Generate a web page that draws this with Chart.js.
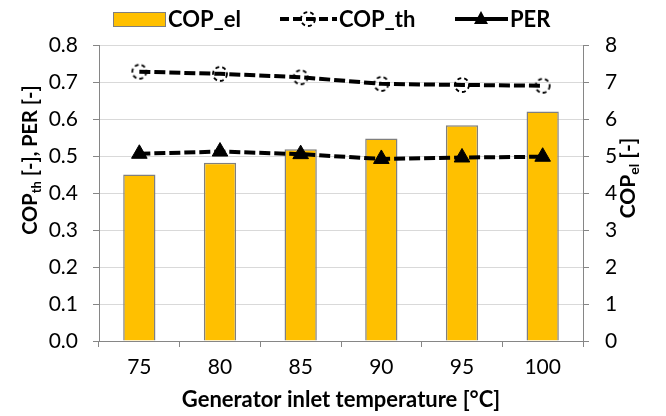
<!DOCTYPE html>
<html>
<head>
<meta charset="utf-8">
<script src="https://cdn.jsdelivr.net/npm/chart.js@4"></script>
<style>
  html, body { margin: 0; padding: 0; background: #fff; }
  #wrap { width: 666px; height: 416px; }
</style>
</head>
<body>
<div id="wrap"><canvas id="copChart" width="666" height="416"></canvas></div>
<script>
// generator inlet temperature steps
var temps = ["75", "80", "85", "90", "95", "100"];
// electric COP (right axis)
var copEl = [4.5, 4.82, 5.18, 5.47, 5.83, 6.2];
// thermal COP and primary energy ratio (left axis)
var copTh = [0.728, 0.722, 0.713, 0.695, 0.692, 0.69];
var per = [0.506, 0.512, 0.505, 0.492, 0.496, 0.498];

var leftTicks = [0, 0.1, 0.2, 0.3, 0.4, 0.5, 0.6, 0.7, 0.8];
var rightTicks = [0, 1, 2, 3, 4, 5, 6, 7, 8];

var FONT = "Lato, 'Open Sans', sans-serif";
var BAR_FILL = "#FFC000";
var BAR_EDGE = "#7f7f7f";
var AXIS = "#868686";
var GRID = "#d9d9d9";

// open circle with a dashed outline, used for COP_th
function dashedCircle() {
   var c = document.createElement("canvas");
   c.width = 20;
   c.height = 20;
   var g = c.getContext("2d");
   g.strokeStyle = "#000";
   g.lineWidth = 1.8;
   g.setLineDash([4, 3]);
   g.beginPath();
   g.arc(10, 10, 7, 0, Math.PI * 2);
   g.stroke();
   return c;
}
var circleMarker = dashedCircle();

// text with an optional subscript part, drawn centred on (cx, cy)
function richText(ctx, parts, cx, cy, angle, size) {
   var subSize = Math.round(size * 0.67);
   ctx.save();
   ctx.translate(cx, cy);
   ctx.rotate(angle);
   ctx.textBaseline = "middle";
   ctx.textAlign = "left";
   var total = 0;
   parts.forEach(function (p) {
      ctx.font = "bold " + (p.sub ? subSize : size) + "px " + FONT;
      p.w = ctx.measureText(p.text).width;
      total += p.w;
   });
   var x = -total / 2;
   parts.forEach(function (p) {
      ctx.font = "bold " + (p.sub ? subSize : size) + "px " + FONT;
      ctx.fillStyle = "#000";
      ctx.fillText(p.text, x, p.sub ? 6 : 0);
      x += p.w;
   });
   ctx.restore();
}

var extras = {
   id: "extras",
   afterDraw: function (chart) {
      var ctx = chart.ctx;

      // axis titles with subscripts
      richText(ctx, [{ text: "COP" }, { text: "th", sub: true }, { text: " [-], PER [-]" }], 31, 160, -Math.PI / 2, 20);
      richText(ctx, [{ text: "COP" }, { text: "el", sub: true }, { text: " [-]" }], 628, 178, -Math.PI / 2, 21);

      // legend
      var ly = 19;
      ctx.save();
      ctx.fillStyle = BAR_FILL;
      ctx.strokeStyle = BAR_EDGE;
      ctx.lineWidth = 1;
      ctx.fillRect(113, 12, 52, 14);
      ctx.strokeRect(113.5, 12.5, 52, 14);

      ctx.font = "bold 22px " + FONT;
      ctx.fillStyle = "#000";
      ctx.textBaseline = "middle";
      ctx.fillText("COP_el", 168, ly + 1);

      ctx.strokeStyle = "#000";
      ctx.lineWidth = 4;
      ctx.setLineDash([9, 4]);
      ctx.beginPath();
      ctx.moveTo(280, ly);
      ctx.lineTo(337, ly);
      ctx.stroke();
      ctx.setLineDash([]);
      ctx.drawImage(circleMarker, 308 - 10, ly - 10);
      ctx.fillText("COP_th", 339, ly + 1);

      ctx.beginPath();
      ctx.moveTo(455, ly);
      ctx.lineTo(508, ly);
      ctx.stroke();
      ctx.beginPath();
      ctx.moveTo(481, ly - 8);
      ctx.lineTo(488, ly + 5);
      ctx.lineTo(474, ly + 5);
      ctx.closePath();
      ctx.fill();
      ctx.fillText("PER", 510, ly + 1);
      ctx.restore();
   },
};

var ctx = document.getElementById("copChart").getContext("2d");
var chart = new Chart(ctx, {
   type: "bar",
   data: {
      labels: temps,
      datasets: [
         {
            type: "line",
            label: "COP_th",
            data: copTh,
            yAxisID: "y",
            borderColor: "#000",
            borderWidth: 4,
            borderDash: [11, 4],
            pointStyle: circleMarker,
            fill: false,
            order: 1,
         },
         {
            type: "line",
            label: "PER",
            data: per,
            yAxisID: "y",
            borderColor: "#000",
            borderWidth: 4,
            borderDash: [11, 4],
            pointStyle: "triangle",
            pointRadius: 9,
            pointBackgroundColor: "#000",
            pointBorderColor: "#000",
            pointBorderWidth: 1,
            fill: false,
            order: 2,
         },
         {
            type: "bar",
            label: "COP_el",
            data: copEl,
            yAxisID: "y2",
            backgroundColor: BAR_FILL,
            borderColor: BAR_EDGE,
            borderWidth: 1.5,
            categoryPercentage: 1,
            barPercentage: 0.4,
            order: 3,
         },
      ],
   },
   options: {
      responsive: false,
      animation: false,
      layout: { padding: { top: 45, left: 0, right: 0, bottom: 0 } },
      plugins: {
         legend: { display: false },
         tooltip: { enabled: false },
      },
      scales: {
         x: {
            offset: true,
            grid: {
               offset: true,
               drawOnChartArea: false,
               tickLength: 6,
               tickColor: AXIS,
            },
            border: { color: AXIS },
            ticks: { color: "#000", font: { family: FONT, size: 21 }, padding: 8 },
            title: {
               display: true,
               text: "Generator inlet temperature [°C]",
               color: "#000",
               font: { family: FONT, size: 22, weight: "bold" },
               padding: { top: 0, bottom: 3 },
            },
            afterFit: function (s) { s.height = 75; },
         },
         y: {
            position: "left",
            min: 0,
            max: 0.8,
            afterBuildTicks: function (s) {
               s.ticks = leftTicks.map(function (v) { return { value: v }; });
            },
            grid: { color: GRID, tickLength: 6, tickColor: AXIS },
            border: { color: AXIS },
            ticks: {
               color: "#000",
               font: { family: FONT, size: 21 },
               padding: 15,
               callback: function (v) { return v.toFixed(1); },
            },
            afterFit: function (s) { s.width = 99; },
         },
         y2: {
            position: "right",
            min: 0,
            max: 8,
            afterBuildTicks: function (s) {
               s.ticks = rightTicks.map(function (v) { return { value: v }; });
            },
            grid: { drawOnChartArea: false, tickLength: 6, tickColor: AXIS },
            border: { color: AXIS },
            ticks: { color: "#000", font: { family: FONT, size: 21 }, padding: 16 },
            afterFit: function (s) { s.width = 83; },
         },
      },
   },
   plugins: [extras],
});
</script>
</body>
</html>
